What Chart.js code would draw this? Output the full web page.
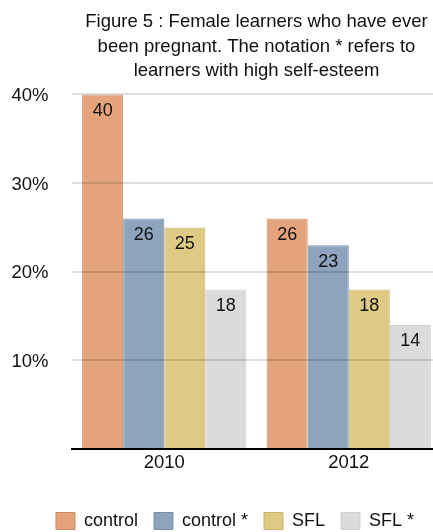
<!DOCTYPE html>
<html>
<head>
<meta charset="utf-8">
<script src="https://cdn.jsdelivr.net/npm/chart.js@4.4.1/dist/chart.umd.min.js"></script>
<style>
  html, body { margin: 0; padding: 0; background: #ffffff; overflow: hidden; width: 433px; height: 532px; }
  canvas { display: block; }
</style>
</head>
<body>
<canvas id="c" width="470" height="540"></canvas>
<script>
const titleLines = ["Figure 5 : Female learners who have ever", "been pregnant. The notation * refers to", "learners with high self-esteem"];
const categories = ["2010", "2012"];
const seriesNames = ["control", "control *", "SFL", "SFL *"];
const controlValues = [40, 26];
const controlStarValues = [26, 23];
const sflValues = [25, 18];
const sflStarValues = [18, 14];
const yTickValues = [0, 10, 20, 30, 40];

const fillColors = ["#E4A37A", "#8DA3BE", "#DECA85", "#DBDBDB"];
const edgeColors = ["#C88B64", "#7A90AA", "#C9B56E", "#D0D0D0"];
const FONT = "'Liberation Sans', Arial, Helvetica, sans-serif";

const seriesValues = [controlValues, controlStarValues, sflValues, sflStarValues];

const barLabels = {
  id: 'barLabels',
  afterDatasetsDraw(chart) {
    const ctx = chart.ctx;
    ctx.save();
    ctx.font = "18px " + FONT;
    ctx.fillStyle = "#111111";
    ctx.textAlign = "center";
    ctx.textBaseline = "middle";
    chart.data.datasets.forEach((ds, i) => {
      const meta = chart.getDatasetMeta(i);
      meta.data.forEach((el, j) => {
        ctx.fillText(String(ds.data[j]), el.x, el.y + 16.5);
      });
    });
    ctx.restore();
  }
};

new Chart(document.getElementById('c'), {
  type: 'bar',
  data: {
    labels: categories,
    datasets: seriesNames.map((name, i) => ({
      label: name,
      data: seriesValues[i],
      backgroundColor: fillColors[i],
      borderColor: edgeColors[i],
      borderWidth: 1,
      categoryPercentage: 0.89,
      barPercentage: 1.0
    }))
  },
  options: {
    responsive: false,
    animation: false,
    devicePixelRatio: 1,
    layout: { padding: 0 },
    plugins: {
      title: {
        display: true,
        text: titleLines,
        fullSize: false,
        color: "#111111",
        font: { family: FONT, size: 18.5, weight: 'normal', lineHeight: 1.324 },
        padding: { top: 10, bottom: 11 }
      },
      legend: {
        display: true,
        position: 'bottom',
        fullSize: true,
        labels: {
          color: "#111111",
          font: { family: FONT, size: 18 },
          boxWidth: 19,
          boxHeight: 17,
          padding: 16
        }
      },
      tooltip: { enabled: false }
    },
    scales: {
      x: {
        grid: { display: false, drawTicks: false },
        border: { display: true, color: "#000000", width: 2, z: 1 },
        ticks: { color: "#111111", font: { family: FONT, size: 18.5 }, padding: 3 },
        afterFit(s) { s.height = 47; }
      },
      y: {
        min: 0,
        max: 40,
        afterBuildTicks(s) { s.ticks = yTickValues.map(v => ({ value: v })); },
        grid: { color: "rgba(0,0,0,0.13)", lineWidth: 2, drawTicks: false, z: 1 },
        border: { display: false },
        ticks: {
          color: "#111111",
          font: { family: FONT, size: 18.5 },
          padding: 23.5,
          labelOffset: 1.5,
          callback: (v) => v === 0 ? null : v + "%"
        },
        afterFit(s) { s.width = 72; }
      },
      r: {
        type: 'linear',
        position: 'right',
        display: true,
        grid: { display: false, drawTicks: false },
        border: { display: false },
        ticks: { display: false },
        afterFit(s) { s.width = 29; }
      }
    }
  },
  plugins: [barLabels]
});
</script>
</body>
</html>
